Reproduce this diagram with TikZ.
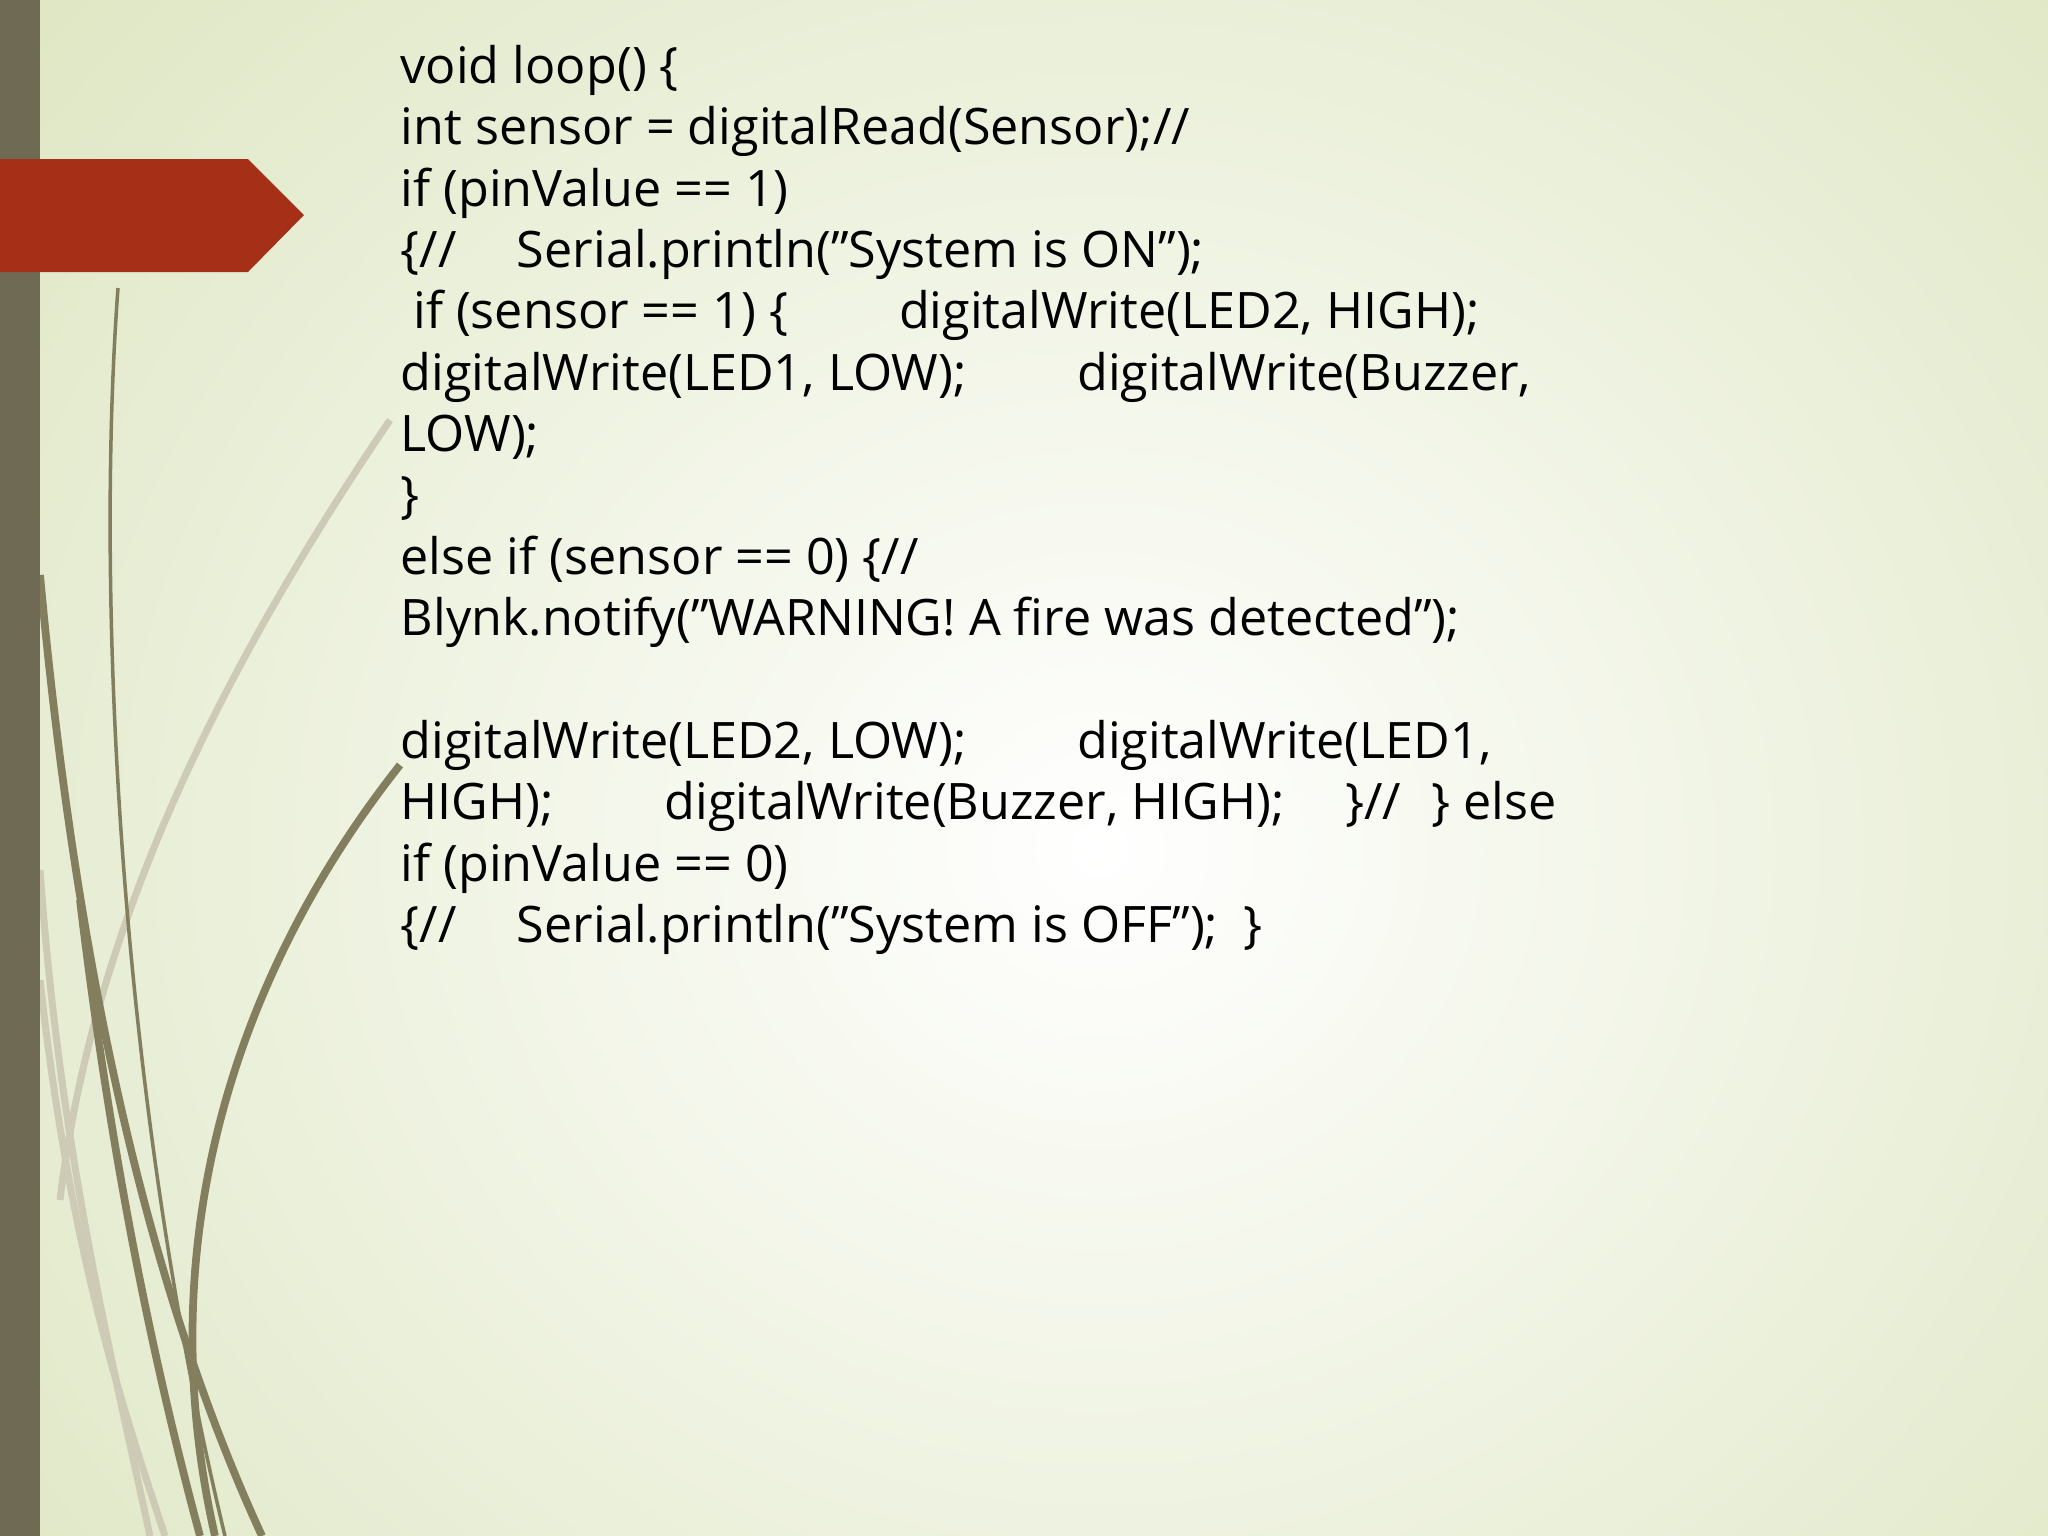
\documentclass[tikz,border=0pt]{standalone}
\usepackage{fontspec}
\setmainfont{Open Sans}
\begin{document}
\begin{tikzpicture}[x=0.01cm,y=-0.01cm,
  code/.style={anchor=base west,inner sep=0pt,font=\fontsize{14.3}{17}\selectfont,text=black},
  dk/.style={draw=olive!40!black!70,line width=2.2pt},
  lt/.style={draw=olive!25!gray!45,line width=2pt}]
\definecolor{edge}{HTML}{D8E2B8}
\definecolor{barc}{HTML}{6E6A54}
\definecolor{redc}{HTML}{A52F17}
\useasboundingbox (0,0) rectangle (2048,1536);
\shade[inner color=white,outer color=edge] (-600,-700) rectangle (2800,2400);
\path[clip] (0,0) rectangle (2048,1536);
\shade[inner color=white,outer color=edge,opacity=0] (0,0) rectangle (1,1);
% curves
\draw[lt] (40,870) .. controls (60,1150) and (110,1350) .. (150,1536);
\draw[lt] (40,980) .. controls (70,1250) and (120,1400) .. (165,1536);
\draw[lt] (390,420) .. controls (200,700) and (90,950) .. (60,1200);
\draw[dk,line width=1pt] (118,288) .. controls (95,600) and (120,1100) .. (225,1536);
\draw[dk] (40,575) .. controls (70,900) and (130,1250) .. (262,1536);
\draw[dk] (400,765) .. controls (230,980) and (150,1250) .. (215,1536);
\draw[dk] (80,900) .. controls (110,1150) and (150,1350) .. (200,1536);
% bar and arrow
\fill[barc] (0,0) rectangle (40,1536);
\fill[redc] (0,159) -- (248,159) -- (304,215) -- (248,272) -- (0,272) -- cycle;
% text
\node[code] (l1) at (400,83) {void loop() \{};
\node[code] (l2) at (400,144) {int sensor = digitalRead(Sensor);//};
\node[code] (l3) at (400,206) {if (pinValue == 1)};
\node[code] (l4) at (400,267) {\{//\hspace{1.2em}Serial.println("System is ON");};
\node[code] (l5) at (400,328) {\hspace{0.25em}if (sensor == 1) \{\hspace{2.2em}digitalWrite(LED2, HIGH);};
\node[code] (l6) at (400,390) {digitalWrite(LED1, LOW);\hspace{2.2em}digitalWrite(Buzzer,};
\node[code] (l7) at (400,451) {LOW);};
\node[code] (l8) at (400,512) {\}};
\node[code] (l9) at (400,574) {else if (sensor == 0) \{//};
\node[code] (l10) at (400,635) {Blynk.notify("WARNING! A fire was detected");};
\node[code] (l12) at (400,758) {digitalWrite(LED2, LOW);\hspace{2.2em}digitalWrite(LED1,};
\node[code] (l13) at (400,819) {HIGH);\hspace{2.2em}digitalWrite(Buzzer, HIGH);\hspace{1.2em}\}//\hspace{0.6em}\} else};
\node[code] (l14) at (400,881) {if (pinValue == 0)};
\node[code] (l15) at (400,942) {\{//\hspace{1.2em}Serial.println("System is OFF");\hspace{0.5em}\}};
\end{tikzpicture}
\end{document}
